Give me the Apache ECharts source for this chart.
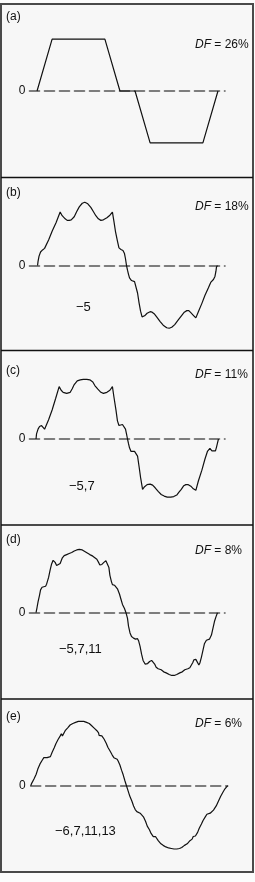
<!DOCTYPE html>
<html>
<head>
    <meta charset="utf-8">
    <title>Harmonic elimination waveforms</title>
    <script src="https://cdn.jsdelivr.net/npm/echarts@6/dist/echarts.min.js"></script>
    <style>
        html, body { margin: 0; padding: 0; background: #fcfcfc; }
        #main { width: 255px; height: 882px; }
    </style>
</head>
<body>
    <div id="main"></div>
    <script>
        // waveforms: [angle in degrees, amplitude]
        const panelA = [[0, 0], [30, 1], [135, 1], [165, 0], [195, 0], [225, -1], [330, -1], [360, 0]];
        const panelB = [
            [1, 0], [2, 0.08], [4, 0.18], [7, 0.26], [11, 0.30], [15, 0.33], [23, 0.49], [30, 0.66], [38, 0.83], [46, 1.03],
            [50, 0.96], [56, 0.90], [60, 0.87], [64, 0.87], [68, 0.88], [74, 0.94], [79, 1.04], [84, 1.13], [90, 1.20], [95, 1.22],
            [101, 1.19], [107, 1.12], [112, 1.04], [117, 0.96], [122, 0.90], [127, 0.87], [132, 0.88], [139, 0.92], [145, 0.97], [150, 1.03],
            [153, 0.85], [156, 0.66], [160, 0.47], [163, 0.34], [167, 0.31], [171, 0.29], [174, 0.23], [176, 0.13], [178, 0],
            [180, -0.09], [182, -0.17], [184, -0.24], [188, -0.29], [194, -0.31], [197, -0.33], [200, -0.53], [203, -0.72], [206, -0.88], [209, -0.99], [210, -1.01],
            [214, -0.97], [219, -0.92], [225, -0.89], [229, -0.90], [233, -0.93], [238, -0.99], [245, -1.08], [251, -1.15], [258, -1.20], [263, -1.21],
            [268, -1.19], [274, -1.14], [281, -1.05], [288, -0.96], [293, -0.90], [298, -0.87], [302, -0.87], [306, -0.91], [311, -0.96], [316, -1.01],
            [321, -0.89], [328, -0.73], [334, -0.58], [341, -0.43], [346, -0.32], [351, -0.27], [354, -0.21], [356, -0.11], [357, -0.03], [359, 0]
        ];
        const panelC = [
            [-2, 0], [-1, 0.10], [2, 0.19], [5, 0.24], [9, 0.26], [12, 0.23], [15, 0.19], [23, 0.37], [30, 0.56], [37, 0.78], [44, 1.01],
            [48, 0.94], [52, 0.90], [59, 0.88], [66, 0.90], [70, 0.97], [74, 1.05], [80, 1.12], [86, 1.14], [92, 1.15], [99, 1.15],
            [105, 1.14], [111, 1.10], [115, 1.03], [121, 0.96], [127, 0.90], [132, 0.88], [139, 0.90], [145, 0.94], [150, 1.01],
            [153, 0.81], [157, 0.56], [160, 0.35], [163, 0.26], [166, 0.25], [170, 0.28], [173, 0.26], [176, 0.19], [178, 0.10], [180, 0],
            [182, -0.09], [184, -0.17], [187, -0.24], [190, -0.26], [194, -0.24], [197, -0.21], [200, -0.33], [203, -0.53], [206, -0.74], [210, -0.97],
            [214, -0.92], [219, -0.88], [225, -0.87], [230, -0.89], [235, -0.94], [241, -1.01], [247, -1.07], [253, -1.10], [259, -1.12], [266, -1.12],
            [272, -1.11], [278, -1.08], [282, -1.03], [287, -0.97], [292, -0.90], [296, -0.88], [301, -0.88], [306, -0.91], [311, -0.96], [316, -0.99],
            [321, -0.81], [328, -0.60], [334, -0.39], [339, -0.24], [344, -0.18], [348, -0.23], [351, -0.26], [355, -0.23], [357, -0.16], [359, -0.08], [361, 0]
        ];
        const panelD = [
            [-2, 0], [0, 0.10], [2, 0.21], [5, 0.34], [7, 0.44], [10, 0.49], [13, 0.52], [17, 0.51], [19, 0.55], [23, 0.68], [26, 0.82], [29, 0.94],
            [32, 1.01], [34, 1.03], [36, 0.97], [39, 0.91], [42, 0.90], [46, 0.95], [50, 1.05], [54, 1.10], [59, 1.12], [64, 1.14], [69, 1.16],
            [74, 1.19], [79, 1.21], [84, 1.22], [90, 1.21], [95, 1.18], [100, 1.15], [105, 1.12], [111, 1.09], [115, 1.06], [119, 1.03],
            [123, 0.96], [125, 0.92], [129, 0.93], [133, 0.97], [137, 1.00], [140, 1.01], [143, 0.87], [145, 0.72], [148, 0.60], [150, 0.54],
            [154, 0.53], [157, 0.51], [160, 0.46], [164, 0.36], [167, 0.26], [170, 0.16], [174, 0.08], [177, 0],
            [180, -0.11], [182, -0.26], [185, -0.39], [188, -0.46], [192, -0.49], [196, -0.51], [200, -0.50], [202, -0.54], [205, -0.65],
            [208, -0.80], [211, -0.92], [215, -0.99], [217, -1.01], [220, -0.98], [224, -0.94], [228, -0.92], [231, -0.93], [234, -0.99],
            [237, -1.05], [241, -1.08], [247, -1.10], [252, -1.14], [257, -1.16], [263, -1.19], [268, -1.21], [273, -1.21], [278, -1.19],
            [284, -1.16], [289, -1.14], [294, -1.10], [300, -1.08], [304, -1.06], [307, -1.04], [310, -0.96], [312, -0.91], [316, -0.90],
            [319, -0.92], [322, -1.01], [324, -0.97], [327, -0.86], [330, -0.73], [333, -0.60], [337, -0.53], [340, -0.51], [343, -0.51],
            [347, -0.43], [350, -0.30], [353, -0.17], [356, -0.08], [359, 0]
        ];
        const panelE = [
            [0, 0], [2, 0.05], [6, 0.13], [10, 0.22], [13, 0.32], [17, 0.42], [21, 0.49], [24, 0.54], [27, 0.55], [30, 0.54], [33, 0.53],
            [36, 0.56], [39, 0.64], [43, 0.73], [46, 0.81], [50, 0.89], [54, 0.96], [56, 1.00], [58, 0.96], [60, 0.99], [63, 1.06], [68, 1.12],
            [72, 1.17], [77, 1.20], [82, 1.22], [87, 1.24], [92, 1.24], [97, 1.24], [102, 1.22], [107, 1.20], [111, 1.16], [116, 1.11],
            [121, 1.06], [124, 1.02], [125, 0.97], [127, 0.99], [130, 0.96], [134, 0.90], [138, 0.82], [141, 0.74], [145, 0.67], [149, 0.59],
            [152, 0.54], [155, 0.52], [158, 0.51], [160, 0.47], [163, 0.40], [166, 0.30], [169, 0.21], [172, 0.10], [175, 0],
            [178, -0.10], [181, -0.20], [185, -0.30], [188, -0.39], [191, -0.46], [194, -0.50], [197, -0.51], [200, -0.53], [203, -0.55],
            [206, -0.60], [210, -0.69], [213, -0.78], [217, -0.85], [220, -0.92], [224, -0.98], [226, -1.01], [228, -0.98], [230, -1.00],
            [233, -1.06], [238, -1.12], [242, -1.15], [247, -1.18], [252, -1.20], [257, -1.21], [262, -1.22], [267, -1.22], [272, -1.21],
            [276, -1.19], [281, -1.15], [286, -1.12], [291, -1.06], [295, -1.03], [297, -0.98], [299, -1.01], [301, -0.97], [305, -0.90],
            [308, -0.82], [312, -0.74], [315, -0.67], [319, -0.60], [322, -0.55], [325, -0.53], [328, -0.53], [331, -0.52], [334, -0.47],
            [339, -0.39], [343, -0.30], [347, -0.21], [351, -0.13], [355, -0.06], [360, 0]
        ];
        const panelLabels = ['(a)', '(b)', '(c)', '(d)', '(e)'];
        const dfValues = ['26%', '18%', '11%', '8%', '6%'];
        const harmonicLabels = ['', '\u22125', '\u22125,7', '\u22125,7,11', '\u22126,7,11,13'];

        const waves = [panelA, panelB, panelC, panelD, panelE];

        // layout (pixels)
        const zeroY = [91, 265.5, 439, 612.7, 785.7];
        const halfH = 83;
        const gridX = [
            { left: 29.5, right: 30, min: -15, max: 374 },
            { left: 29.5, right: 30, min: -15, max: 374 },
            { left: 29.5, right: 30, min: -15, max: 374 },
            { left: 29.5, right: 30, min: -15, max: 374 },
            { left: 30.7, right: 27.3, min: 0, max: 360 }
        ];
        const labelY = [16.5, 192.5, 370.5, 539.5, 717];
        const dfY = [45, 206.7, 374.3, 550.5, 723.5];
        const harmPos = [null, [76, 307], [69, 486.5], [59, 649], [55, 831]];
        const sepY = [177.5, 350.5, 525, 699];
        const FONT = '"Liberation Sans", Arial, Helvetica, sans-serif';

        const chartDom = document.getElementById('main');
        const myChart = echarts.init(chartDom, null, { renderer: 'canvas' });

        const grids = [], xAxes = [], yAxes = [], series = [];
        waves.forEach((w, i) => {
            grids.push({
                left: gridX[i].left, right: gridX[i].right,
                top: zeroY[i] - halfH, height: halfH * 2
            });
            xAxes.push({
                type: 'value', gridIndex: i,
                min: gridX[i].min, max: gridX[i].max,
                axisLine: { show: true, onZero: true, lineStyle: { color: '#555', width: 1.6, type: [10, 5] } },
                axisTick: { show: false },
                axisLabel: { show: false },
                splitLine: { show: false }
            });
            yAxes.push({
                type: 'value', gridIndex: i,
                min: -1.6, max: 1.6, interval: 0.8,
                axisLine: { show: false },
                axisTick: { show: false },
                splitLine: { show: false },
                axisLabel: {
                    margin: i === 4 ? 5 : 4,
                    fontSize: 12, fontFamily: FONT, color: '#111',
                    formatter: v => Math.abs(v) < 1e-9 ? '0' : ''
                }
            });
            series.push({
                type: 'line', xAxisIndex: i, yAxisIndex: i,
                data: w, showSymbol: false, smooth: false,
                lineStyle: { color: '#111', width: 1.2 },
                z: 5
            });
        });

        // frame, separators and texts
        const graphic = [{
            type: 'rect', z: -10,
            shape: { x: 1, y: 4, width: 252, height: 868 },
            style: { fill: '#f7f7f7', stroke: '#4a4a4a', lineWidth: 2 }
        }];
        sepY.forEach(y => graphic.push({
            type: 'line', z: -9,
            shape: { x1: 1, y1: y, x2: 253, y2: y },
            style: { stroke: '#111', lineWidth: 1.5 }
        }));
        panelLabels.forEach((t, i) => {
            graphic.push({
                type: 'text', x: 6, y: labelY[i],
                style: { text: t, fill: '#111', fontSize: 12, fontFamily: FONT, verticalAlign: 'middle', align: 'left' }
            });
            graphic.push({
                type: 'text', x: 195, y: dfY[i],
                style: {
                    text: '{i|DF} = ' + dfValues[i],
                    fill: '#111', fontSize: 12, fontFamily: FONT, verticalAlign: 'middle', align: 'left',
                    rich: { i: { fontStyle: 'italic', fontSize: 12, fontFamily: FONT, fill: '#111' } }
                }
            });
            if (harmPos[i]) {
                graphic.push({
                    type: 'text', x: harmPos[i][0], y: harmPos[i][1],
                    style: { text: harmonicLabels[i], fill: '#111', fontSize: 13, fontFamily: FONT, verticalAlign: 'middle', align: 'left' }
                });
            }
        });

        myChart.setOption({
            animation: false,
            backgroundColor: '#fcfcfc',
            grid: grids,
            xAxis: xAxes,
            yAxis: yAxes,
            series: series,
            graphic: graphic
        });

        window.addEventListener('resize', function() {
            myChart.resize();
        });
    </script>
</body>
</html>
